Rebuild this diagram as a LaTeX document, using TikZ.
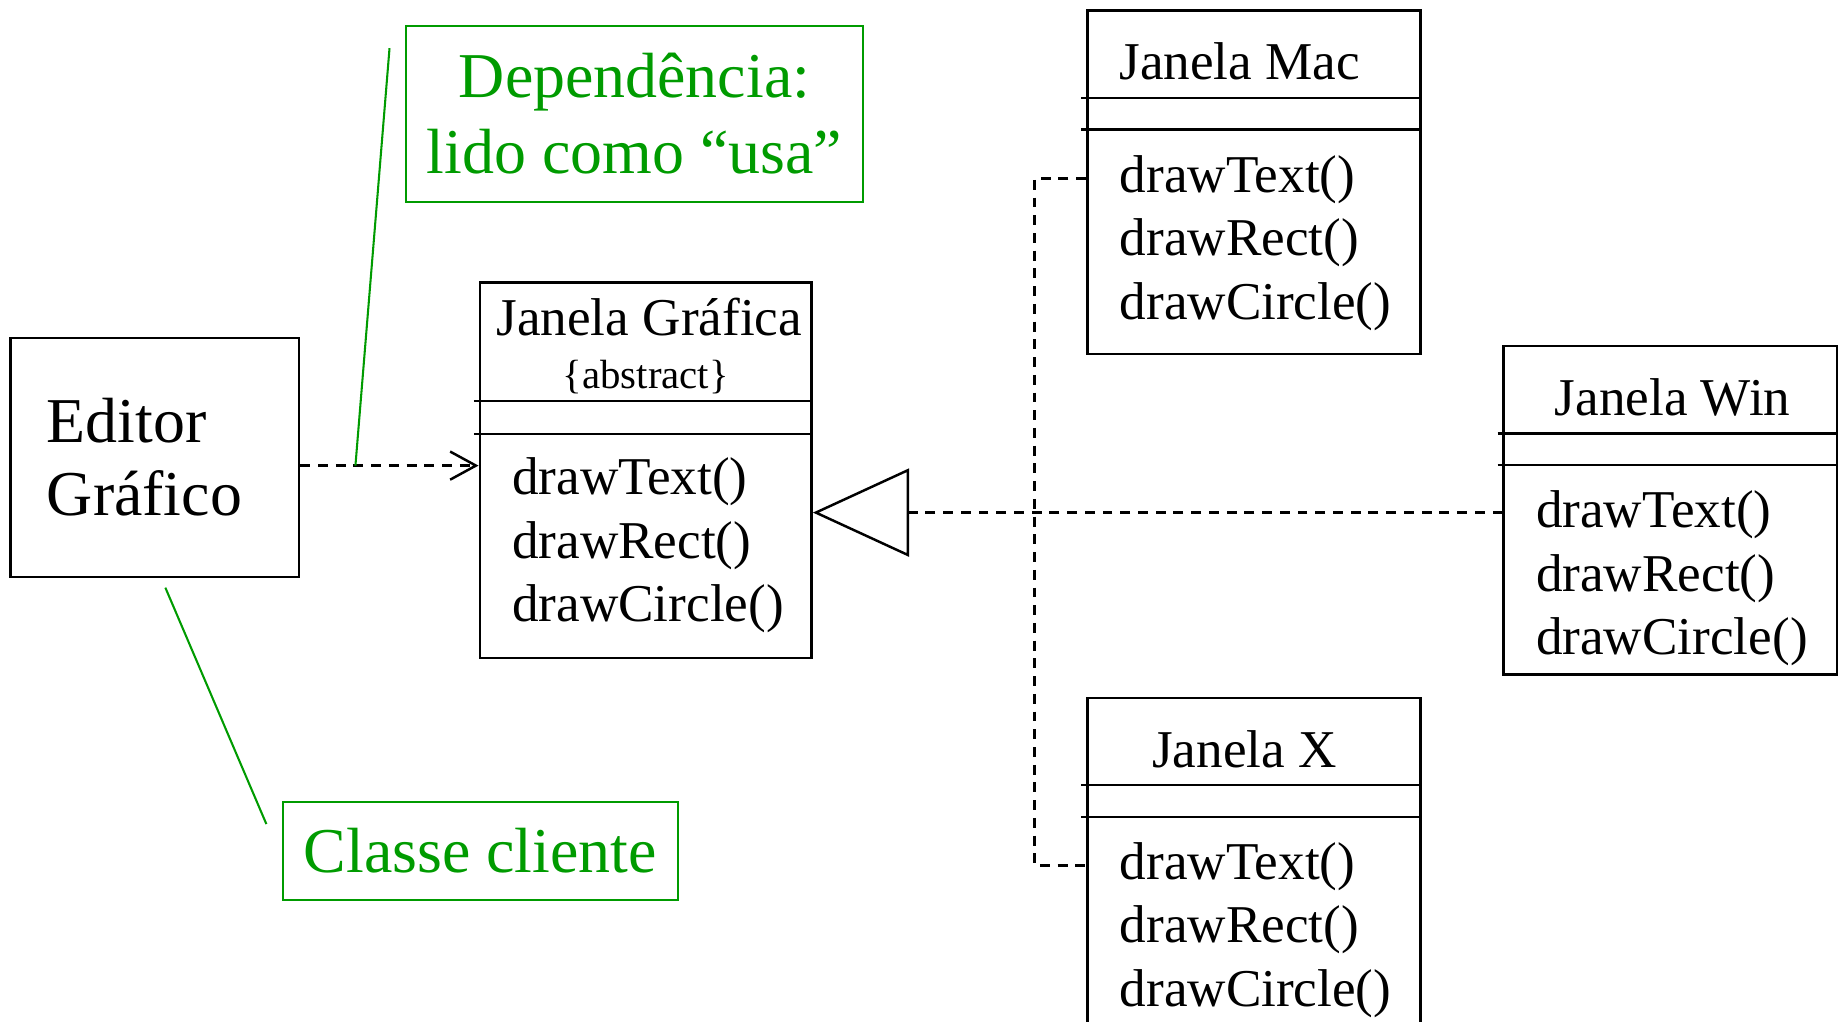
\documentclass[tikz,border=0pt]{standalone}
\usepackage{fontspec}
\setmainfont{Liberation Serif}
\usetikzlibrary{arrows.meta}
\definecolor{verde}{RGB}{0,155,0}

\begin{document}
\begin{tikzpicture}[
	linha/.style = {line width=0.6pt},
	caixa/.style = {draw, linha, inner sep=0pt},
	classe/.style = {caixa, minimum width=2.84cm, anchor=north west},
	titulo/.style = {anchor=base, inner sep=0pt, font=\fontsize{12.9}{15.5}\selectfont},
	metodo/.style = {anchor=base west, inner sep=0pt, font=\fontsize{12.9}{15.5}\selectfont},
	nota/.style = {draw=verde, text=verde, line width=0.5pt, inner sep=0pt, align=center, font=\fontsize{15.5}{18.5}\selectfont},
	tracejado/.style = {linha, dash pattern=on 2.4pt off 1.9pt},
	]
	% Area
	\clip[use as bounding box] (0,0) rectangle (15.68,8.71);

	% Cliente
	\node[caixa, minimum width=2.46cm, minimum height=2.04cm, text width=1.84cm, inner xsep=0.31cm, align=left, font=\fontsize{15.5}{17.8}\selectfont] (editor) at (1.32,4.81) {Editor\\Gráfico};

	% Classe abstrata
	\node[classe, minimum width=2.83cm, minimum height=3.20cm] (grafica) at (4.08,6.31) {};
	\node[titulo] (grafica-nome) at ([xshift=0.03cm, yshift=-0.46cm]grafica.north) {Janela Gráfica};
	\node[titulo, font=\fontsize{9.9}{12}\selectfont] (grafica-abstract) at ([yshift=-0.91cm]grafica.north) {\{abstract\}};
	\draw[linha] ([xshift=-0.04cm, yshift=-1.02cm]grafica.north west) -- ([yshift=-1.02cm]grafica.north east);
	\draw[linha] ([xshift=-0.04cm, yshift=-1.30cm]grafica.north west) -- ([yshift=-1.30cm]grafica.north east);
	\foreach \m [count=\i] in {drawText(), drawRect(), drawCircle()}
		\node[metodo] (grafica-m\i) at ([xshift=0.28cm, yshift={-1.28cm-0.54cm*\i}]grafica.north west) {\m};

	% Classes concretas
	\foreach \nome/\x/\y/\h/\dx/\texto in {mac/9.26/8.63/2.93/-0.12/Janela Mac, win/12.81/5.77/2.80/0.02/Janela Win, jx/9.26/2.77/2.93/-0.08/Janela X} {
		\node[classe, minimum height=\h cm] (\nome) at (\x,\y) {};
		\node[titulo] (\nome-nome) at ([xshift=\dx cm, yshift=-0.60cm]\nome.north) {\texto};
		\draw[linha] ([xshift=-0.04cm, yshift=-0.755cm]\nome.north west) -- ([yshift=-0.755cm]\nome.north east);
		\draw[linha] ([xshift=-0.04cm, yshift=-1.025cm]\nome.north west) -- ([yshift=-1.025cm]\nome.north east);
		\foreach \m [count=\i] in {drawText(), drawRect(), drawCircle()}
			\node[metodo] (\nome-m\i) at ([xshift=0.28cm, yshift={-1.02cm-0.54cm*\i}]\nome.north west) {\m};
	}

	% Dependencia
	\coordinate (usa) at ([yshift=-0.07cm]editor.east);
	\draw[tracejado, -{Straight Barb[length=0.22cm, width=0.24cm]}] (usa) -- (usa -| grafica.west);

	% Heranca
	\coordinate (barra) at (8.82,4.34);
	\draw[tracejado, -{Triangle[open, length=0.82cm, width=0.75cm]}] ([yshift=-0.02cm]win.west) -- ([yshift=-0.02cm]win.west -| grafica.east);
	\draw[tracejado] ([yshift=-1.44cm]mac.north west) -| (barra) |- ([yshift=-1.44cm]jx.north west);

	% Notas
	\node[nota, minimum width=3.90cm, minimum height=1.50cm] (notausa) at (5.41,7.74) {Dependência:\\lido como “usa”};
	\node[nota, minimum width=3.37cm, minimum height=0.84cm] (notacliente) at (4.095,1.455) {Classe cliente};
	\draw[verde, line width=0.5pt] ([xshift=0.47cm]usa) -- ([xshift=-0.13cm, yshift=-0.20cm]notausa.north west);
	\draw[verde, line width=0.5pt] ([xshift=0.09cm, yshift=-0.08cm]editor.south) -- ([xshift=-0.13cm, yshift=-0.20cm]notacliente.north west);

\end{tikzpicture}
\end{document}
